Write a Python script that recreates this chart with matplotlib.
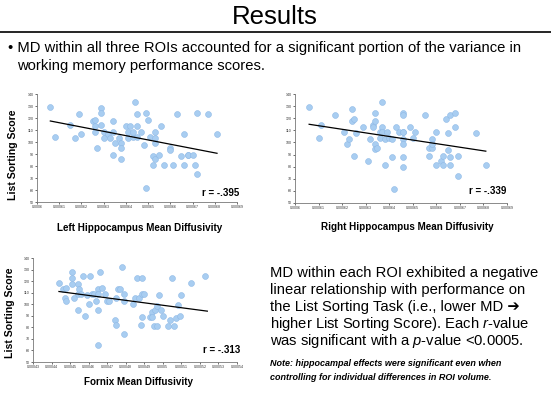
import numpy as np
import matplotlib.pyplot as plt

# ---- data ----
left_md = [0.000606, 0.000608, 0.000615, 0.000617, 0.000619, 0.000620, 0.000625, 0.000626,
           0.000626, 0.000626, 0.000627, 0.000629, 0.000629, 0.000629, 0.000630, 0.000630,
           0.000632, 0.000633, 0.000634, 0.000634, 0.000634, 0.000635, 0.000637, 0.000638,
           0.000638, 0.000638, 0.000640, 0.000641, 0.000641, 0.000642, 0.000643, 0.000643,
           0.000644, 0.000645, 0.000645, 0.000645, 0.000647, 0.000648, 0.000649, 0.000649,
           0.000650, 0.000651, 0.000652, 0.000652, 0.000653, 0.000653, 0.000653, 0.000653,
           0.000655, 0.000656, 0.000657, 0.000660, 0.000660, 0.000661, 0.000663, 0.000665,
           0.000666, 0.000666, 0.000668, 0.000668, 0.000670, 0.000671, 0.000672, 0.000672,
           0.000677, 0.000681]
left_score = [129, 104, 114, 103, 123, 107, 117.5, 118, 113, 108.5, 95, 128, 124, 114, 108, 103,
              107, 103, 117.5, 108.5, 89, 99, 103, 99, 95, 86, 113, 108.5, 103, 113, 104, 108.5,
              133, 104, 123, 113, 108.5, 97.5, 124, 62, 118, 104, 88, 81, 108.5, 103, 99, 86,
              89, 113, 81, 95, 93.5, 81, 123, 88, 107, 81, 89, 89, 89, 81, 124, 73,
              123, 107]
left_fit_x = [0.000606, 0.000681]
left_fit_y = [117.5, 90.6]

right_md = [0.000606, 0.000610, 0.000611, 0.000617, 0.000621, 0.000622, 0.000623, 0.000624,
            0.000624, 0.000625, 0.000625, 0.000626, 0.000629, 0.000631, 0.000632, 0.000633,
            0.000633, 0.000634, 0.000634, 0.000634, 0.000634, 0.000635, 0.000636, 0.000636,
            0.000637, 0.000637, 0.000637, 0.000638, 0.000638, 0.000639, 0.000640, 0.000641,
            0.000641, 0.000642, 0.000643, 0.000644, 0.000646, 0.000646, 0.000646, 0.000646,
            0.000646, 0.000646, 0.000646, 0.000646, 0.000649, 0.000650, 0.000651, 0.000655,
            0.000657, 0.000657, 0.000658, 0.000658, 0.000658, 0.000660, 0.000660, 0.000662,
            0.000663, 0.000663, 0.000664, 0.000665, 0.000665, 0.000666, 0.000666, 0.000666,
            0.000668, 0.000668, 0.000669, 0.000669, 0.000677, 0.000681]
right_score = [129, 104, 114.5, 123, 108.5, 99, 103, 128, 118, 119, 89, 108, 113, 85, 103, 114.5,
               113, 124.5, 118, 98.5, 94.5, 95, 104, 108.5, 133, 113, 108.5, 103, 81, 108.5,
               104, 88, 103, 61.5, 113, 108.5, 124.5, 103, 108.5, 123, 108.5, 99, 88, 80,
               113, 104, 108.5, 123, 89, 95, 103, 95, 99, 108.5, 81, 85, 81, 89, 119, 93.5,
               108, 88, 123, 81, 124.5, 113, 72, 89, 108, 81]
right_fit_x = [0.000606, 0.000681]
right_fit_y = [115, 92.8]

fornix_md = [0.000444, 0.000446, 0.000447, 0.000448, 0.000448, 0.000451, 0.000451, 0.000451,
             0.000452, 0.000454, 0.000454, 0.000454, 0.000455, 0.000456, 0.000457, 0.000458,
             0.000459, 0.000460, 0.000461, 0.000462, 0.000463, 0.000464, 0.000465, 0.000465,
             0.000465, 0.000465, 0.000466, 0.000467, 0.000469, 0.000470, 0.000471, 0.000474,
             0.000475, 0.000475, 0.000476, 0.000477, 0.000478, 0.000479, 0.000479, 0.000479,
             0.000484, 0.000485, 0.000486, 0.000487, 0.000488, 0.000489, 0.000489, 0.000489,
             0.000490, 0.000493, 0.000494, 0.000494, 0.000495, 0.000496, 0.000497, 0.000497,
             0.000498, 0.000499, 0.000500, 0.000503, 0.000504, 0.000505, 0.000506, 0.000507,
             0.000508, 0.000509, 0.000510, 0.000515, 0.000523]
fornix_score = [118.5, 113, 105, 114, 103, 128, 123, 117.5, 105, 109, 117.5, 95, 113, 109, 124,
                90, 108, 100, 124, 109, 109, 103, 113, 109, 64.5, 95, 128, 114, 109, 103, 103,
                86.5, 82, 105, 113, 113, 132.5, 109, 103, 74.5, 100, 105, 123, 105, 82, 123,
                109, 89, 109, 89, 93.5, 89, 81, 95, 98.5, 81, 108, 95, 90, 81, 86, 123, 81,
                88.5, 99, 90, 108, 118.5, 124]
fornix_fit_x = [0.000444, 0.000524]
fornix_fit_y = [111, 94]

md_ticks_hippo = [0.0006, 0.00061, 0.00062, 0.00063, 0.00064, 0.00065, 0.00066, 0.00067,
                  0.00068, 0.00069]
md_ticks_fornix = [0.00043, 0.00044, 0.00045, 0.00046, 0.00047, 0.00048, 0.00049, 0.0005,
                   0.00051, 0.00052, 0.00053, 0.00054]
score_ticks = [50, 60, 70, 80, 90, 100, 110, 120, 130, 140]

W, H = 551, 393
FONT = ['Liberation Sans', 'DejaVu Sans']
plt.rcParams['font.family'] = FONT
plt.rcParams['mathtext.fontset'] = 'custom'
plt.rcParams['mathtext.rm'] = 'Liberation Sans'
plt.rcParams['mathtext.it'] = 'Liberation Sans:italic'

fig = plt.figure(figsize=(W / 100, H / 100), dpi=100)


def px(x, y):
    return x / W, 1 - y / H


def add_panel(box, md, score, fit_x, fit_y, ticks, xlabel, r_text, xlab_pos, r_pos):
    x0, y0, x1, y1 = box
    ax = fig.add_axes([x0 / W, 1 - y1 / H, (x1 - x0) / W, (y1 - y0) / H])
    ax.scatter(md, score, s=18, color='#a8cdf1', edgecolors='#8fb9e6', linewidths=0.4, zorder=3)
    ax.plot(fit_x, fit_y, color='black', lw=0.9, zorder=4)
    ax.set_xlim(ticks[0], ticks[-1])
    ax.set_ylim(50, 140)
    ax.set_xticks(ticks)
    ax.set_xticklabels([f'{t:g}' for t in ticks])
    ax.set_yticks(score_ticks)
    ax.tick_params(labelsize=2.6, length=1.5, width=0.5, pad=1, colors='#333333')
    for side in ['top', 'right']:
        ax.spines[side].set_visible(False)
    for side in ['left', 'bottom']:
        ax.spines[side].set_color('#777777')
        ax.spines[side].set_linewidth(0.6)
    fig.text(*px(*xlab_pos), xlabel, ha='center', va='center', fontsize=7.1, fontweight='bold')
    fig.text(*px(*r_pos), r_text, ha='center', va='center', fontsize=7, fontweight='bold')
    return ax


add_panel((37, 94, 237, 202), left_md, left_score, left_fit_x, left_fit_y, md_ticks_hippo,
          'Left Hippocampus Mean Diffusivity', 'r = -.395', (140, 228), (221, 193))
add_panel((295, 94, 507, 203), right_md, right_score, right_fit_x, right_fit_y, md_ticks_hippo,
          'Right Hippocampus Mean Diffusivity', 'r = -.339', (407, 227), (488, 191))
add_panel((33, 258, 237, 362), fornix_md, fornix_score, fornix_fit_x, fornix_fit_y, md_ticks_fornix,
          'Fornix Mean Diffusivity', 'r = -.313', (138, 382), (222, 350))

fig.text(*px(13, 155), 'List Sorting Score', rotation=90, ha='center', va='center',
         fontsize=7.6, fontweight='bold')
fig.text(*px(10, 313), 'List Sorting Score', rotation=90, ha='center', va='center',
         fontsize=7.6, fontweight='bold')

# slide header
fig.text(*px(275, 17), 'Results', ha='center', va='center', fontsize=18.5)
fig.add_artist(plt.Line2D([0, 1], [1 - 32 / H, 1 - 32 / H], color='black', lw=1.2))
fig.text(*px(8, 48), '\u2022 MD within all three ROIs accounted for a significant portion of the variance in',
         ha='left', va='center', fontsize=10.6)
fig.text(*px(17, 66), 'working memory performance scores.', ha='left', va='center', fontsize=10.6)

body = ['MD within each ROI exhibited a negative',
        'linear relationship with performance on',
        'the List Sorting Task (i.e., lower MD \u2794',
        'higher List Sorting Score). Each $\\it{r}$-value',
        'was significant with a $\\it{p}$-value <0.0005.']
for i, line in enumerate(body):
    fig.text(*px(270, 273 + i * 17), line, ha='left', va='center', fontsize=10.6)

fig.text(*px(270, 364), 'Note: hippocampal effects were significant even when',
         ha='left', va='center', fontsize=6.5, fontweight='bold', fontstyle='italic')
fig.text(*px(270, 377), 'controlling for individual differences in ROI volume.',
         ha='left', va='center', fontsize=6.5, fontweight='bold', fontstyle='italic')

fig.savefig('out.png', dpi=100)
